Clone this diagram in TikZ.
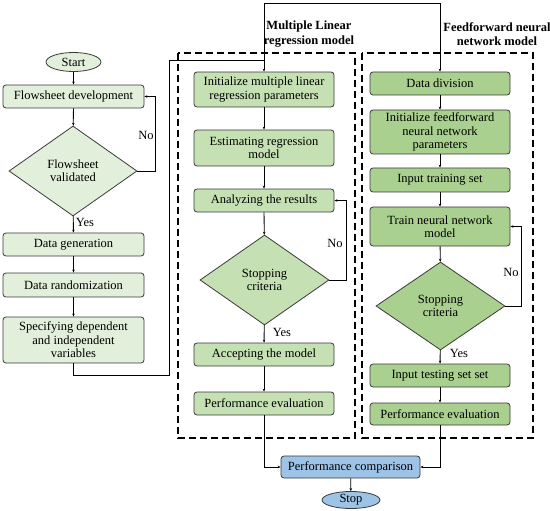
\documentclass[tikz,border=0pt]{standalone}
\usepackage{fontspec}
\setmainfont{Liberation Serif}
\usetikzlibrary{shapes.geometric,arrows.meta}
\definecolor{gA}{HTML}{E2EFDA}
\definecolor{gB}{HTML}{C5E0B3}
\definecolor{gC}{HTML}{A9D08E}
\definecolor{bA}{HTML}{9DC3E6}
\definecolor{bd}{HTML}{3A3A3A}
\begin{document}
\begin{tikzpicture}[x=1pt,y=-1pt,
  every node/.style={font=\fontsize{12.5}{13.4}\selectfont, inner sep=1pt, align=center},
  proc/.style={draw=bd, line width=0.8pt, rounded corners=3pt, minimum width=140pt},
  dec/.style={draw=bd, line width=0.8pt, diamond, inner sep=0pt},
  term/.style={draw=bd, line width=0.8pt, ellipse, inner sep=0pt},
  conn/.style={line width=0.8pt, -{Stealth[length=3pt,width=2.5pt]}},
  plain/.style={line width=0.8pt},
  frame/.style={line width=1.7pt, dash pattern=on 7pt off 4pt},
  lbl/.style={font=\fontsize{12.5}{13.4}\selectfont},
  ttl/.style={font=\bfseries\fontsize{12.5}{14.5}\selectfont}]
\useasboundingbox (0,0) rectangle (550,511);
% frames
\draw[frame] (178,53) rectangle (355,438);
\draw[frame] (362,53) rectangle (533,438);
\node[ttl] (t1) at (309,34) {Multiple Linear\\regression model};
\node[ttl] (t2) at (497,34) {Feedforward neural\\network model};
% left column
\node[term, fill=gA, minimum width=55pt, minimum height=19pt] (start) at (73.5,62) {Start};
\node[proc, fill=gA, minimum width=141pt, minimum height=23pt] (fd) at (73.5,96.5) {Flowsheet development};
\node[dec, fill=gA, minimum width=128pt, minimum height=90pt] (fv) at (73,171) {Flowsheet\\validated};
\node[proc, fill=gA, minimum width=141pt, minimum height=23pt] (dg) at (73.5,244.5) {Data generation};
\node[proc, fill=gA, minimum width=141pt, minimum height=24pt] (dr) at (73.5,285) {Data randomization};
\node[proc, fill=gA, minimum width=141pt, minimum height=46pt] (sp) at (73.5,340) {Specifying dependent\\and independent\\variables};
% middle column
\node[proc, fill=gB, minimum height=35pt] (im) at (264,89.5) {Initialize multiple linear\\regression parameters};
\node[proc, fill=gB, minimum height=36pt] (er) at (264,148) {Estimating regression\\model};
\node[proc, fill=gB, minimum height=23pt] (ar) at (264,200.5) {Analyzing the results};
\node[dec, fill=gB, minimum width=129pt, minimum height=90pt] (sc1) at (264.5,280) {Stopping\\criteria};
\node[proc, fill=gB, minimum height=23pt] (am) at (264,354.5) {Accepting the model};
\node[proc, fill=gB, minimum height=23pt] (pe1) at (264,403.5) {Performance evaluation};
% right column
\node[proc, fill=gC, minimum height=23pt] (dd) at (440,83.5) {Data division};
\node[proc, fill=gC, minimum height=44pt] (iff) at (440,132) {Initialize feedforward\\neural network\\parameters};
\node[proc, fill=gC, minimum height=24pt] (its) at (440,180) {Input training set};
\node[proc, fill=gC, minimum height=39pt] (tn) at (440,226.5) {Train neural network\\model};
\node[dec, fill=gC, minimum width=129pt, minimum height=88pt] (sc2) at (440.5,306) {Stopping\\criteria};
\node[proc, fill=gC, minimum height=23pt] (ite) at (440,375.5) {Input testing set set};
\node[proc, fill=gC, minimum height=22pt] (pe2) at (440,414) {Performance evaluation};
% bottom
\node[proc, fill=bA, minimum width=139pt, minimum height=22pt] (pc) at (350.5,467) {Performance comparison};
\node[term, fill=bA, minimum width=58pt, minimum height=17pt] (stop) at (351,500) {Stop};
% helper coordinates
\coordinate (j1) at (264,60);
\coordinate (j2) at (264,3);
\coordinate (j3) at (440,3);
% left connectors
\draw[conn] (start) -- (fd);
\draw[conn] (fd) -- (fv);
\draw[conn] (fv.east) -- (155,171) |- (fd.east);
\node[lbl] (no1) at (146,135) {No};
\draw[conn] (fv) -- (dg);
\node[lbl] (yes1) at (85,222) {Yes};
\draw[conn] (dg) -- (dr);
\draw[conn] (dr) -- (sp);
\draw[plain] (sp.south) -- (73.5,375) -- (169,375) -- (169,60) -- (j1);
\draw[conn] (j1) -- (im);
\draw[plain] (j1) -- (j2) -- (j3);
\draw[conn] (j3) -- (dd);
% middle connectors
\draw[conn] (im) -- (er);
\draw[conn] (er) -- (ar);
\draw[conn] (ar) -- (sc1);
\draw[conn] (sc1.east) -- (346,280) |- (ar.east);
\node[lbl] (no2) at (335,243) {No};
\draw[conn] (sc1) -- (am);
\node[lbl] (yes2) at (282,332) {Yes};
\draw[conn] (am) -- (pe1);
\draw[conn] (pe1.south) |- (pc.west);
% right connectors
\draw[conn] (dd) -- (iff);
\draw[conn] (iff) -- (its);
\draw[conn] (its) -- (tn);
\draw[conn] (tn) -- (sc2);
\draw[conn] (sc2.east) -- (521,306) |- (tn.east);
\node[lbl] (no3) at (511,272) {No};
\draw[conn] (sc2) -- (ite);
\node[lbl] (yes3) at (459,353) {Yes};
\draw[conn] (ite) -- (pe2);
\draw[conn] (pe2.south) |- (pc.east);
\draw[conn] (pc) -- (stop);
\end{tikzpicture}
\end{document}
